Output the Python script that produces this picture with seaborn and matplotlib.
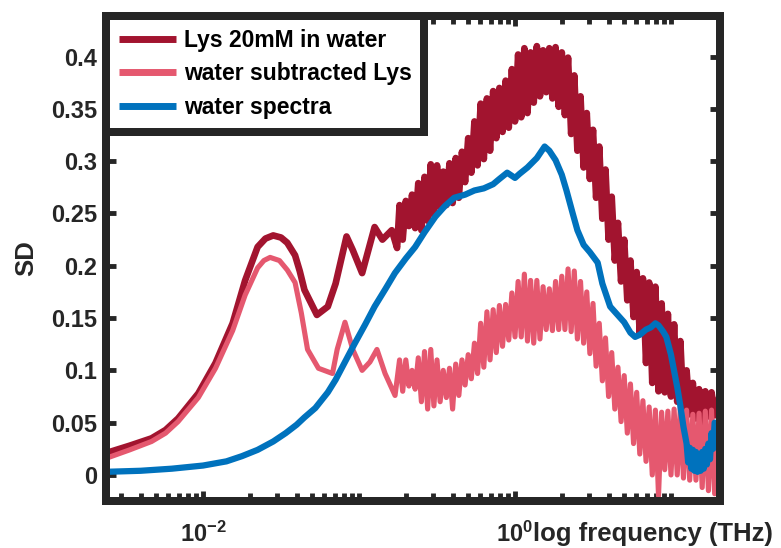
import numpy as np
import pandas as pd
import matplotlib
matplotlib.use('Agg')
import matplotlib.pyplot as plt
import matplotlib.ticker as mticker
import seaborn as sns

# ---------------- data ----------------
# log10 of frequency (THz) and SD values
series_names = ['Lys 20mM in water', 'water subtracted Lys', 'water spectra']

# low-frequency (smooth) part of Lys 20mM in water
lf_lys_lo = [-2.62, -2.47, -2.33, -2.24, -2.16, -2.03, -1.92, -1.81, -1.73,
             -1.65, -1.60, -1.55, -1.50, -1.46, -1.41, -1.38, -1.35, -1.27,
             -1.20, -1.15, -1.08, -1.04, -0.98, -0.90, -0.85, -0.79, -0.756]
lys_lo = [0.021, 0.028, 0.035, 0.043, 0.054, 0.078, 0.107, 0.145, 0.186,
          0.218, 0.226, 0.229, 0.227, 0.222, 0.210, 0.195, 0.177, 0.153,
          0.161, 0.183, 0.228, 0.215, 0.193, 0.237, 0.225, 0.234, 0.217]

# low-frequency part of water subtracted Lys
lf_sub_lo = [-2.62, -2.47, -2.33, -2.24, -2.16, -2.03, -1.92, -1.81, -1.73,
             -1.65, -1.61, -1.57, -1.51, -1.46, -1.41, -1.37, -1.33, -1.26,
             -1.17, -1.14, -1.09, -1.04, -0.98, -0.93, -0.885, -0.833, -0.769]
sub_lo = [0.016, 0.024, 0.032, 0.040, 0.051, 0.074, 0.102, 0.138, 0.172,
          0.198, 0.205, 0.208, 0.205, 0.196, 0.184, 0.155, 0.120, 0.102,
          0.097, 0.120, 0.146, 0.120, 0.100, 0.108, 0.120, 0.097, 0.076]

# high-frequency (noisy) sampling, shared by both Lys traces
lf_hf = [-0.74, -0.72, -0.70, -0.68, -0.66, -0.64, -0.62, -0.60, -0.58, -0.56,
         -0.54, -0.52, -0.50, -0.48, -0.46, -0.44, -0.42, -0.40, -0.38, -0.36,
         -0.34, -0.32, -0.30, -0.28, -0.26, -0.24, -0.22, -0.20, -0.18, -0.16,
         -0.14, -0.12, -0.10, -0.08, -0.06, -0.04, -0.02, 0.00, 0.02, 0.04,
         0.06, 0.08, 0.10, 0.12, 0.14, 0.16, 0.18, 0.20, 0.22, 0.24,
         0.26, 0.28, 0.30, 0.32, 0.34, 0.36, 0.38, 0.40, 0.42, 0.44,
         0.46, 0.48, 0.50, 0.52, 0.54, 0.56, 0.58, 0.60, 0.62, 0.64,
         0.66, 0.68, 0.70, 0.72, 0.74, 0.76, 0.78, 0.80, 0.82, 0.84,
         0.86, 0.88, 0.90, 0.92, 0.94, 0.96, 0.98, 1.00, 1.02, 1.04,
         1.06, 1.08, 1.10, 1.12, 1.14, 1.16, 1.18, 1.20, 1.22, 1.24,
         1.26, 1.28, 1.31]
lys_hf = [0.258, 0.225, 0.262, 0.238, 0.268, 0.236, 0.279, 0.234, 0.285, 0.243,
          0.297, 0.249, 0.296, 0.256, 0.290, 0.258, 0.298, 0.260, 0.303, 0.265,
          0.309, 0.280, 0.322, 0.289, 0.338, 0.296, 0.355, 0.302, 0.360, 0.310,
          0.367, 0.322, 0.370, 0.328, 0.377, 0.332, 0.388, 0.338, 0.402, 0.342,
          0.408, 0.346, 0.404, 0.356, 0.410, 0.362, 0.406, 0.366, 0.408, 0.360,
          0.409, 0.352, 0.404, 0.344, 0.399, 0.326, 0.382, 0.310, 0.362, 0.294,
          0.346, 0.283, 0.330, 0.265, 0.314, 0.245, 0.292, 0.225, 0.266, 0.205,
          0.241, 0.185, 0.225, 0.167, 0.205, 0.151, 0.194, 0.135, 0.188, 0.107,
          0.184, 0.088, 0.180, 0.080, 0.164, 0.079, 0.154, 0.075, 0.144, 0.070,
          0.128, 0.063, 0.100, 0.058, 0.088, 0.054, 0.082, 0.050, 0.080, 0.056,
          0.079, 0.057, 0.075]
sub_hf = [0.110, 0.080, 0.110, 0.085, 0.100, 0.082, 0.112, 0.070, 0.118, 0.063,
          0.120, 0.066, 0.110, 0.070, 0.100, 0.074, 0.102, 0.063, 0.106, 0.076,
          0.110, 0.086, 0.115, 0.092, 0.126, 0.097, 0.145, 0.103, 0.156, 0.110,
          0.158, 0.117, 0.162, 0.123, 0.163, 0.129, 0.174, 0.132, 0.185, 0.132,
          0.192, 0.128, 0.186, 0.126, 0.186, 0.130, 0.180, 0.139, 0.178, 0.138,
          0.185, 0.139, 0.190, 0.139, 0.197, 0.137, 0.195, 0.130, 0.185, 0.126,
          0.175, 0.116, 0.164, 0.104, 0.145, 0.090, 0.131, 0.075, 0.117, 0.063,
          0.103, 0.051, 0.095, 0.040, 0.087, 0.030, 0.079, 0.020, 0.071, 0.013,
          0.065, 0.000, 0.062, -0.020, 0.060, 0.005, 0.061, 0.000, 0.063, 0.000,
          0.065, -0.003, 0.062, -0.005, 0.058, -0.005, 0.059, -0.012, 0.061, -0.015,
          0.062, -0.018, 0.060]

# water spectra
lf_water = [-2.62, -2.40, -2.20, -2.00, -1.85, -1.75, -1.65, -1.55, -1.47, -1.40,
            -1.35, -1.28, -1.20, -1.15, -1.09, -1.03, -0.96, -0.90, -0.83, -0.77,
            -0.70, -0.64, -0.58, -0.51, -0.45, -0.39, -0.32, -0.26, -0.20, -0.14,
            -0.10, -0.05, 0.00, 0.03, 0.08, 0.14, 0.19, 0.22, 0.26, 0.30,
            0.33, 0.37, 0.40, 0.44, 0.48, 0.53, 0.56, 0.61, 0.67, 0.70,
            0.74, 0.77, 0.80, 0.84, 0.87, 0.90, 0.92, 0.95, 0.97, 1.00,
            1.04, 1.06, 1.08, 1.10, 1.11, 1.12, 1.13, 1.14, 1.15, 1.16,
            1.17, 1.18, 1.19, 1.20, 1.21, 1.22, 1.23, 1.24, 1.25, 1.26,
            1.27, 1.28, 1.31]
water = [0.003, 0.004, 0.006, 0.009, 0.013, 0.018, 0.024, 0.032, 0.040, 0.048,
         0.055, 0.064, 0.079, 0.091, 0.108, 0.125, 0.144, 0.161, 0.178, 0.193,
         0.207, 0.218, 0.232, 0.247, 0.257, 0.265, 0.268, 0.272, 0.274, 0.278,
         0.283, 0.289, 0.284, 0.288, 0.294, 0.303, 0.314, 0.310, 0.301, 0.287,
         0.272, 0.250, 0.234, 0.220, 0.213, 0.203, 0.183, 0.161, 0.151, 0.146,
         0.136, 0.132, 0.134, 0.139, 0.141, 0.145, 0.143, 0.137, 0.132, 0.115,
         0.084, 0.066, 0.046, 0.030, 0.012, 0.026, 0.006, 0.024, 0.004, 0.022,
         0.003, 0.020, 0.004, 0.022, 0.006, 0.025, 0.010, 0.030, 0.015, 0.040,
         0.025, 0.050, 0.045]

y_ticks = [0, 0.05, 0.1, 0.15, 0.2, 0.25, 0.3, 0.35, 0.4]
y_tick_labels = ['0', '0.05', '0.1', '0.15', '0.2', '0.25', '0.3', '0.35', '0.4']
x_ticks = [1e-2, 1e0]
x_tick_labels = [r'$10^{-2}$', r'$10^{0}$']

colors = ['#A2142F', '#E5586F', '#0072BD']
widths = [4.8, 3.7, 4.5]

# ---------------- styling ----------------
sns.set_style('ticks')
plt.rcParams['font.family'] = ['Liberation Sans', 'DejaVu Sans']
plt.rcParams['font.weight'] = 'bold'
plt.rcParams['mathtext.fontset'] = 'custom'
plt.rcParams['mathtext.rm'] = 'Liberation Sans:bold'
plt.rcParams['mathtext.it'] = 'Liberation Sans:bold'
plt.rcParams['mathtext.bf'] = 'Liberation Sans:bold'
plt.rcParams['mathtext.default'] = 'rm'

INK = '#262626'
FS_TICK = 17
FS_LABEL = 18.5
FS_LEG = 16.5

fig = plt.figure(figsize=(7.81, 5.48), dpi=100)
ax = fig.add_axes([106 / 781, 47 / 548, 613.5 / 781, 485 / 548])
ax.set_xscale('log')

frames = [
    pd.DataFrame({'freq': 10 ** np.array(lf_lys_lo + lf_hf), 'SD': lys_lo + lys_hf}),
    pd.DataFrame({'freq': 10 ** np.array(lf_sub_lo + lf_hf), 'SD': sub_lo + sub_hf}),
    pd.DataFrame({'freq': 10 ** np.array(lf_water), 'SD': water}),
]
for df, name, c, w in zip(frames, series_names, colors, widths):
    sns.lineplot(data=df, x='freq', y='SD', ax=ax, color=c, linewidth=w,
                 label=name, estimator=None, sort=False, errorbar=None,
                 solid_joinstyle='round', solid_capstyle='round')

ax.set_xlim(10 ** -2.622, 10 ** 1.311)
ax.set_ylim(-0.0249, 0.4388)

ax.xaxis.set_major_locator(mticker.FixedLocator(x_ticks))
ax.xaxis.set_major_formatter(mticker.FixedFormatter(x_tick_labels))
ax.xaxis.set_minor_locator(mticker.LogLocator(base=10, subs=np.arange(1, 10), numticks=30))
ax.xaxis.set_minor_formatter(mticker.NullFormatter())
ax.set_yticks(y_ticks)
ax.set_yticklabels(y_tick_labels)

ax.tick_params(axis='both', which='both', direction='in', top=True, right=True,
               colors=INK, labelsize=FS_TICK, width=3.5)
ax.tick_params(which='major', length=7)
ax.tick_params(which='minor', length=5.5)
ax.tick_params(axis='y', pad=6.5)
ax.tick_params(axis='x', pad=15)
for lab in ax.get_xticklabels() + ax.get_yticklabels():
    lab.set_fontweight('bold')

for s in ax.spines.values():
    s.set_linewidth(5.76)
    s.set_color(INK)
    s.set_zorder(3)

ax.set_ylabel('SD', fontsize=FS_LABEL, fontweight='bold', color=INK, labelpad=9)
ax.set_xlabel('log frequency (THz)', fontsize=FS_LABEL, fontweight='bold', color=INK)
ax.xaxis.set_label_coords(0.696, -0.043)
ax.xaxis.label.set_ha('left')

leg = ax.legend(loc='upper left', bbox_to_anchor=(0, 1), borderaxespad=0,
                frameon=True, fancybox=False, edgecolor=INK, framealpha=1,
                prop={'size': FS_LEG, 'weight': 'bold'}, handlelength=2.5,
                handletextpad=0.35, labelspacing=0.47, borderpad=0.55)
leg.get_frame().set_linewidth(5.76)
for line in leg.get_lines():
    line.set_linewidth(5.0)
    line.set_solid_capstyle('butt')
for t in leg.get_texts():
    t.set_color('black')

fig.savefig('out.png', dpi=100)
